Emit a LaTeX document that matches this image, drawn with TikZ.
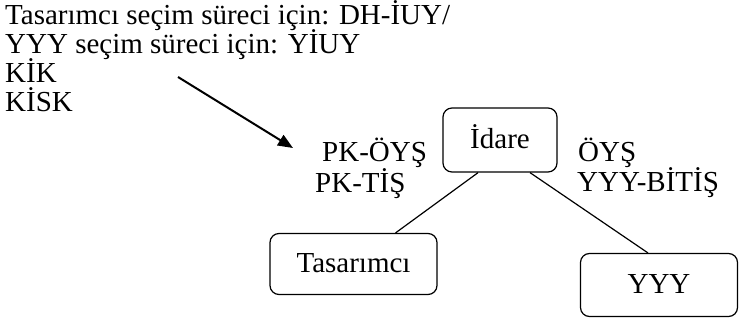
\documentclass[tikz,border=0pt]{standalone}
\usepackage{fontspec}
\setmainfont{Liberation Serif}
\usetikzlibrary{arrows.meta,calc}
\tikzset{
  txt/.style={anchor=base west, inner sep=0pt, font=\fontsize{29}{29}\selectfont},
  boxnode/.style={draw, line width=1.2pt, rounded corners=9pt, inner sep=0pt,
    font=\fontsize{29}{29}\selectfont, text height=22pt, text depth=4pt},
  link/.style={line width=1.2pt},
  pointer/.style={line width=2pt, -{Triangle[length=15pt,width=12pt]}}
}
\begin{document}
\begin{tikzpicture}[x=1pt,y=-1pt]
\useasboundingbox (0,0) rectangle (739,320);
% top-left text
\node[txt] (l1) at (5,25) {Tasarımcı seçim süreci için: DH-İUY/};
\node[txt] (l2) at (5,54) {YYY seçim süreci için: YİUY};
\node[txt] (l3) at (5,83) {KİK};
\node[txt] (l4) at (5,112) {KİSK};
% arrow
\coordinate (as) at (178,77);
\coordinate (ae) at (293,148);
\draw[pointer] (as) -- (ae);
% boxes
\node[boxnode, minimum width=114pt, minimum height=64pt] (idare) at (500,140) {İdare};
\node[boxnode, minimum width=167pt, minimum height=61pt] (tas) at (353.5,264) {Tasarımcı};
\node[boxnode, minimum width=157pt, minimum height=63pt] (yyy) at (659,285) {YYY};
% labels
\node[txt] (pk1) at (322,162) {PK-ÖYŞ};
\node[txt] (pk2) at (315,193) {PK-TİŞ};
\node[txt] (o1) at (578,162) {ÖYŞ};
\node[txt] (o2) at (577,192) {YYY-BİTİŞ};
% connectors
\draw[link] ($(idare.south west)!0.31!(idare.south east)$) -- ($(tas.north west)!0.75!(tas.north east)$);
\draw[link] ($(idare.south west)!0.76!(idare.south east)$) -- ($(yyy.north west)!0.43!(yyy.north east)$);
\end{tikzpicture}
\end{document}
